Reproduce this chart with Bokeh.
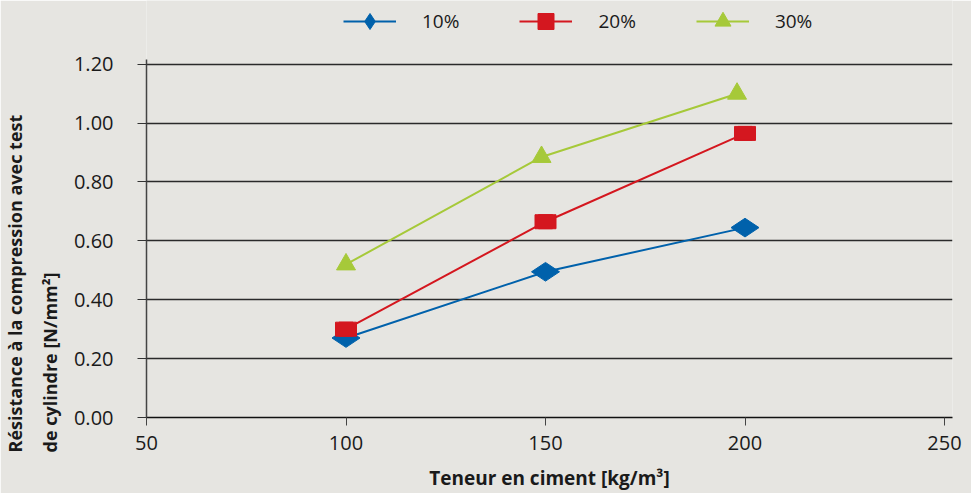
import math
from bokeh.plotting import figure
from bokeh.models import (FixedTicker, NumeralTickFormatter, Legend, LegendItem,
                          ColumnDataSource, Range1d, Title)
from bokeh.embed import file_html
from bokeh.resources import INLINE

# ---- data ----
cement = [100, 150, 200]
r10 = [0.27, 0.495, 0.645]
r20 = [0.30, 0.665, 0.965]
cement30 = [100, 149, 198]
r30 = [0.52, 0.885, 1.10]
series_labels = ["10%", "20%", "30%"]
x_ticks = [50, 100, 150, 200, 250]
y_ticks = [0.0, 0.2, 0.4, 0.6, 0.8, 1.0, 1.2]
y_title = ["Résistance à la compression avec test", "de cylindre  [N/mm²]"]

BG = "#e6e5e1"
BLUE = "#0061ab"
RED = "#d4171f"
GREEN = "#a6c939"
FONT = "Open Sans"
TXT = "#1a1a1a"
Y_AXIS_TOP = 1.215

# frame reaches the top of the canvas so the legend (inside the frame) is not clipped
p = figure(width=971, height=493, output_backend="svg", toolbar_location=None,
           x_range=Range1d(50, 252), y_range=Range1d(0, 1.4165),
           background_fill_color=BG, border_fill_color=BG,
           min_border_left=146, min_border_right=19, min_border_top=0,
           min_border_bottom=73)
p.outline_line_color = None
p.xgrid.grid_line_color = None
p.ygrid.grid_line_color = "#2a2a2a"
p.ygrid.grid_line_width = 1.3
p.ygrid.ticker = FixedTicker(ticks=y_ticks)

p.xaxis.ticker = FixedTicker(ticks=x_ticks)
p.yaxis.ticker = FixedTicker(ticks=y_ticks)
p.yaxis.formatter = NumeralTickFormatter(format="0.00")
p.yaxis.bounds = (0, Y_AXIS_TOP)
for ax in (p.xaxis[0], p.yaxis[0]):
    ax.major_label_text_font = FONT
    ax.major_label_text_font_size = "20px"
    ax.major_label_text_color = TXT
    ax.minor_tick_line_color = None
    ax.major_tick_in = 0
p.xaxis.axis_line_color = "#111111"
p.xaxis.axis_line_width = 1.5
p.xaxis.major_tick_line_color = "#444444"
p.xaxis.major_tick_out = 8
p.xaxis.major_label_standoff = 10
p.yaxis.axis_line_color = "#444444"
p.yaxis.axis_line_width = 1.5
p.yaxis.major_tick_line_color = "#333333"
p.yaxis.major_tick_out = 9
p.yaxis.major_label_standoff = 24

p.xaxis.axis_label = "Teneur en ciment [kg/m³]"
p.xaxis.axis_label_text_font = FONT
p.xaxis.axis_label_text_font_style = "bold"
p.xaxis.axis_label_text_color = TXT
p.xaxis.axis_label_text_font_size = "19px"
p.xaxis.axis_label_standoff = 12

# two-line y title, both lines starting below the frame bottom
for txt, so in ((y_title[1], 18), (y_title[0], 0)):
    p.add_layout(Title(text=txt, align="left", offset=-35, standoff=so,
                       text_font=FONT, text_font_size="18px",
                       text_font_style="bold", text_color=TXT), "left")

src10 = ColumnDataSource(dict(x=cement, y=r10))
src20 = ColumnDataSource(dict(x=cement, y=r20))
src30 = ColumnDataSource(dict(x=cement30, y=r30))

l10 = p.line("x", "y", source=src10, line_color=BLUE, line_width=2)
l20 = p.line("x", "y", source=src20, line_color=RED, line_width=2)
l30 = p.line("x", "y", source=src30, line_color=GREEN, line_width=2)

m10 = p.scatter("x", "y", source=src10, marker="diamond", size=28,
                angle=math.pi / 2, fill_color=BLUE, line_color=BLUE)
m20 = p.scatter("x", "y", source=src20, marker="square", size=14,
                fill_color=RED, line_color=RED)
p.rect("x", "y", source=src20, width=21, height=14, width_units="screen",
       height_units="screen", fill_color=RED, line_color=RED)
m30 = p.scatter("x", "y", source=src30, marker="triangle", size=19,
                fill_color=GREEN, line_color=GREEN)

legend = Legend(items=[
    LegendItem(label=series_labels[0], renderers=[l10, m10]),
    LegendItem(label=series_labels[1], renderers=[l20, m20]),
    LegendItem(label=series_labels[2], renderers=[l30, m30]),
], orientation="horizontal", location=(197, 376),
    glyph_width=53, glyph_height=40, label_standoff=26, spacing=60,
    padding=0, margin=0, border_line_color=None, background_fill_alpha=0,
    label_text_font=FONT, label_text_font_size="19px", label_text_color=TXT)
p.add_layout(legend)

open("out.html", "w").write(file_html(p, INLINE))
